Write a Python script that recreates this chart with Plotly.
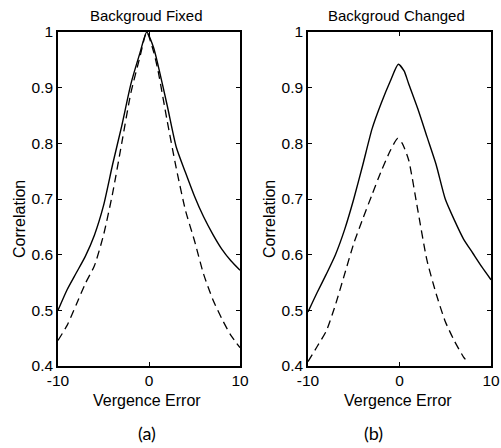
import plotly.graph_objects as go

# Panel (a): Background fixed
xa_solid = [-10, -9, -8, -7, -6, -5, -4, -3, -2, -1, -0.25, 0.5, 1, 2, 3, 4, 5, 6, 7, 8, 9, 10]
ya_solid = [0.50, 0.537, 0.567, 0.597, 0.635, 0.688, 0.762, 0.831, 0.906, 0.962, 1.0, 0.972, 0.94, 0.868, 0.793, 0.748, 0.705, 0.668, 0.637, 0.61, 0.589, 0.572]
xa_dash = [-10, -9, -8, -7, -6, -5, -4, -3, -2, -1, -0.25, 0.5, 1, 2, 3, 4, 5, 6, 7, 8, 9, 10]
ya_dash = [0.446, 0.473, 0.51, 0.548, 0.58, 0.635, 0.71, 0.80, 0.89, 0.955, 1.0, 0.965, 0.93, 0.84, 0.755, 0.68, 0.625, 0.565, 0.52, 0.485, 0.455, 0.433]

# Panel (b): Background changed
xb_solid = [-10, -9, -8, -7, -6, -5, -4, -3, -2, -1, -0.13, 0.5, 1, 2, 3, 4, 5, 6, 7, 8, 9, 10]
yb_solid = [0.497, 0.532, 0.565, 0.60, 0.645, 0.70, 0.762, 0.826, 0.872, 0.912, 0.942, 0.93, 0.907, 0.862, 0.812, 0.762, 0.70, 0.662, 0.628, 0.603, 0.578, 0.555]
xb_dash = [-10, -9, -8, -7, -6, -5, -4, -3, -2, -1, -0.2, 0.3, 1, 2, 3, 4, 5, 6, 7, 7.2]
yb_dash = [0.408, 0.435, 0.463, 0.51, 0.565, 0.62, 0.665, 0.708, 0.75, 0.787, 0.809, 0.80, 0.77, 0.68, 0.59, 0.53, 0.48, 0.445, 0.416, 0.412]

titles = ["Backgroud Fixed", "Backgroud Changed"]
xlabel = "Vergence Error"
ylabel = "Correlation"
panel_labels = ["(a)", "(b)"]
xticks = [-10, 0, 10]
xticklabels = ["-10", "0", "10"]
yticks = [0.4, 0.5, 0.6, 0.7, 0.8, 0.9, 1.0]
yticklabels = ["0.4", "0.5", "0.6", "0.7", "0.8", "0.9", "1"]

W, H = 501, 448
FONT = "Liberation Sans"

fig = go.Figure()
solid = dict(color="black", width=1.4, smoothing=0.6)
dashed = dict(color="black", width=1.3, dash="8px,5px", smoothing=0.6)

fig.add_trace(go.Scatter(x=xa_solid, y=ya_solid, mode="lines", line=solid, xaxis="x", yaxis="y", line_shape="spline"))
fig.add_trace(go.Scatter(x=xa_dash, y=ya_dash, mode="lines", line=dashed, xaxis="x", yaxis="y", line_shape="spline"))
fig.add_trace(go.Scatter(x=xb_solid, y=yb_solid, mode="lines", line=solid, xaxis="x2", yaxis="y2", line_shape="spline"))
fig.add_trace(go.Scatter(x=xb_dash, y=yb_dash, mode="lines", line=dashed, xaxis="x2", yaxis="y2", line_shape="spline"))

# pixel geometry
left_px = [(58, 240), (308, 491)]
top_px, bot_px = 32, 366
ydom = [1 - bot_px / H, 1 - top_px / H]

axis_common = dict(showline=True, mirror="ticks", linecolor="black", linewidth=1.5,
                   ticks="inside", ticklen=4, tickcolor="black", showgrid=False, zeroline=False,
                   automargin=False, tickfont=dict(family=FONT, size=15.5, color="black"))

layout = dict(width=W, height=H, margin=dict(l=0, r=0, t=0, b=0, autoexpand=False),
              paper_bgcolor="white", plot_bgcolor="white", showlegend=False)
for i, (l, r) in enumerate(left_px):
    sfx = "" if i == 0 else str(i + 1)
    layout["xaxis" + sfx] = dict(domain=[l / W, r / W], range=[-10, 10], tickvals=xticks, ticktext=xticklabels,
                                 anchor="y" + sfx, **axis_common)
    layout["yaxis" + sfx] = dict(domain=ydom, range=[0.4, 1.0], tickvals=yticks, ticktext=yticklabels,
                                 anchor="x" + sfx, **axis_common)
fig.update_layout(**layout)

ann = []
for i, (l, r) in enumerate(left_px):
    cx = (l + r) / 2
    ann.append(dict(x=(cx - 3) / W, y=1 - 15 / H, text=titles[i], showarrow=False, xref="paper", yref="paper",
                    xanchor="center", yanchor="middle", font=dict(family=FONT, size=15, color="black")))
    ann.append(dict(x=(cx - 2) / W, y=1 - 400 / H, text=xlabel, showarrow=False, xref="paper", yref="paper",
                    xanchor="center", yanchor="middle", font=dict(family=FONT, size=16, color="black")))
    ann.append(dict(x=(l - 39) / W, y=1 - 219 / H, text=ylabel, showarrow=False, xref="paper", yref="paper",
                    textangle=-90, xanchor="center", yanchor="middle", font=dict(family=FONT, size=16, color="black")))
    ann.append(dict(x=(cx - 2 - (24 if i == 1 else 0)) / W, y=1 - 433 / H, text=panel_labels[i], showarrow=False,
                    xref="paper", yref="paper", xanchor="center", yanchor="middle",
                    font=dict(family="Lato", size=18, color="black")))
fig.update_layout(annotations=ann)

fig.write_html("out.html", config={"displayModeBar": False},
               post_script="document.body.style.margin='0px';document.body.style.overflow='hidden';")
